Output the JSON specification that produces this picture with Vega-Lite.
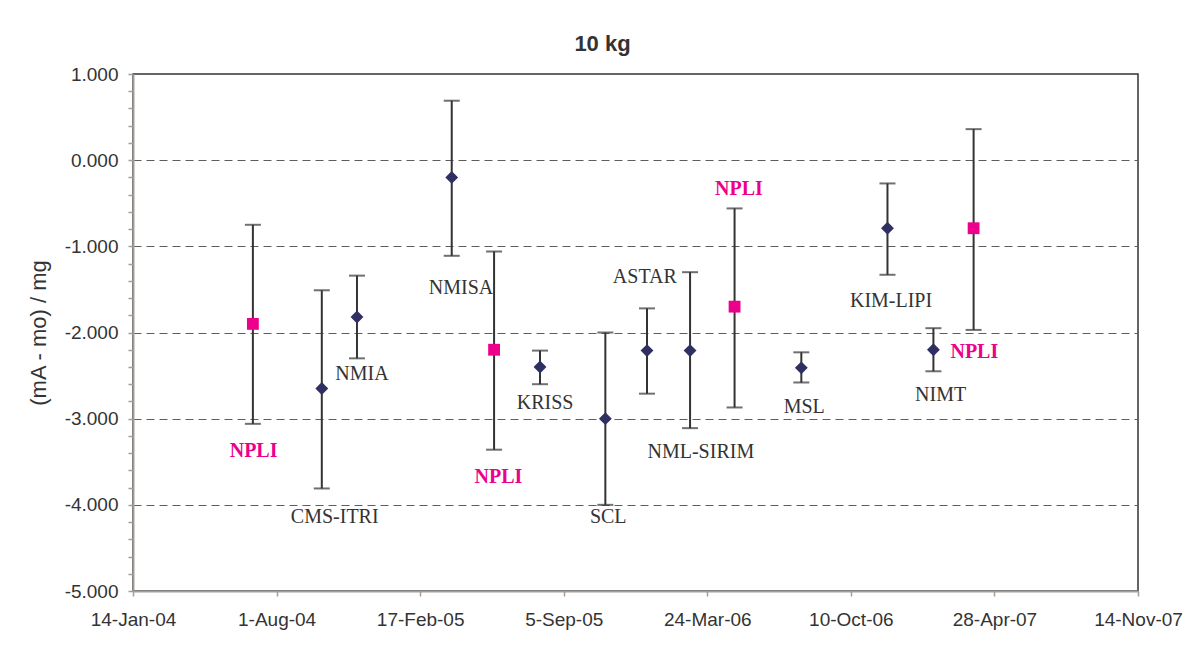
{
  "$schema": "https://vega.github.io/schema/vega-lite/v6.json",
  "width": 1005,
  "height": 517,
  "autosize": {"type": "none"},
  "padding": {"left": 133, "top": 74, "right": 47, "bottom": 67},
  "background": "white",
  "title": {"text": "10 kg", "font": "Liberation Sans", "fontSize": 22, "fontWeight": "bold", "color": "#333333", "dx": -33, "offset": 9, "anchor": "middle"},
  "config": {
    "view": {"stroke": "#333333", "strokeWidth": 1.5},
    "axis": {
      "labelFont": "Liberation Sans", "labelFontSize": 19, "labelColor": "#333333",
      "titleFont": "Liberation Sans", "titleFontSize": 22, "titleColor": "#333333", "titleFontWeight": "normal",
      "domainColor": "#a39d99", "domainWidth": 2, "tickColor": "#a39d99", "tickWidth": 1.5, "tickSize": 5,
      "labelFlush": false, "labelOverlap": false, "labelBound": false
    }
  },
  "datasets": {
    "points": [
      {"lab": "NPLI", "date": "2004-06-29", "value": -1.90, "low": -3.06, "high": -0.75},
      {"lab": "CMS-ITRI", "date": "2004-10-03", "value": -2.65, "low": -3.81, "high": -1.51},
      {"lab": "NMIA", "date": "2004-11-21", "value": -1.82, "low": -2.30, "high": -1.34},
      {"lab": "NMISA", "date": "2005-04-02", "value": -0.20, "low": -1.11, "high": 0.69},
      {"lab": "NPLI", "date": "2005-05-31", "value": -2.20, "low": -3.36, "high": -1.06},
      {"lab": "KRISS", "date": "2005-08-03", "value": -2.40, "low": -2.60, "high": -2.21},
      {"lab": "SCL", "date": "2005-11-02", "value": -3.00, "low": -4.00, "high": -2.00},
      {"lab": "ASTAR", "date": "2005-12-30", "value": -2.21, "low": -2.71, "high": -1.72},
      {"lab": "NML-SIRIM", "date": "2006-02-28", "value": -2.21, "low": -3.11, "high": -1.30},
      {"lab": "NPLI", "date": "2006-05-01", "value": -1.70, "low": -2.87, "high": -0.56},
      {"lab": "MSL", "date": "2006-08-02", "value": -2.41, "low": -2.58, "high": -2.23},
      {"lab": "KIM-LIPI", "date": "2006-11-30", "value": -0.79, "low": -1.33, "high": -0.27},
      {"lab": "NIMT", "date": "2007-02-02", "value": -2.20, "low": -2.45, "high": -1.95},
      {"lab": "NPLI", "date": "2007-03-30", "value": -0.79, "low": -1.97, "high": 0.36}
    ],
    "labels": [
      {"lab": "NPLI", "date": "2004-06-30", "value": -3.38},
      {"lab": "CMS-ITRI", "date": "2004-10-21", "value": -4.14},
      {"lab": "NMIA", "date": "2004-11-28", "value": -2.48},
      {"lab": "NMISA", "date": "2005-04-15", "value": -1.48},
      {"lab": "NPLI", "date": "2005-06-06", "value": -3.68},
      {"lab": "KRISS", "date": "2005-08-10", "value": -2.82},
      {"lab": "SCL", "date": "2005-11-06", "value": -4.14},
      {"lab": "ASTAR", "date": "2005-12-27", "value": -1.36},
      {"lab": "NML-SIRIM", "date": "2006-03-15", "value": -3.39},
      {"lab": "NPLI", "date": "2006-05-07", "value": -0.33},
      {"lab": "MSL", "date": "2006-08-06", "value": -2.87},
      {"lab": "KIM-LIPI", "date": "2006-12-05", "value": -1.63},
      {"lab": "NIMT", "date": "2007-02-12", "value": -2.73},
      {"lab": "NPLI", "date": "2007-03-31", "value": -2.23}
    ]
  },
  "layer": [
    {
      "data": {"name": "points"},
      "mark": {"type": "errorbar", "color": "#333333", "ticks": {"size": 16, "thickness": 2, "color": "#333333"}, "rule": {"strokeWidth": 2, "color": "#333333"}},
      "encoding": {
        "x": {
          "field": "date", "type": "temporal",
          "scale": {"type": "utc", "domain": [{"year": 2004, "month": 1, "date": 14, "utc": true}, {"year": 2007, "month": 11, "date": 14, "utc": true}], "nice": false},
          "axis": {
            "title": null, "grid": false, "labelPadding": 14, "labelOverlap": false, "tickCount": 50,
            "labelExpr": "utcFormat(datum.value, '%-d-%b-%y')",
            "values": [
              {"year": 2004, "month": 1, "date": 14, "utc": true},
              {"year": 2004, "month": 8, "date": 1, "utc": true},
              {"year": 2005, "month": 2, "date": 17, "utc": true},
              {"year": 2005, "month": 9, "date": 5, "utc": true},
              {"year": 2006, "month": 3, "date": 24, "utc": true},
              {"year": 2006, "month": 10, "date": 10, "utc": true},
              {"year": 2007, "month": 4, "date": 28, "utc": true},
              {"year": 2007, "month": 11, "date": 14, "utc": true}
            ]
          }
        },
        "y": {
          "field": "low", "type": "quantitative",
          "scale": {"domain": [-5, 1], "nice": false, "zero": false},
          "axis": {
            "title": "(mA - mo) / mg", "titlePadding": 14, "labelPadding": 10, "labelOverlap": false, "tickCount": 100,
            "values": [1, 0.8, 0.6, 0.4, 0.2, 0, -0.2, -0.4, -0.6, -0.8, -1, -1.2, -1.4, -1.6, -1.8, -2, -2.2, -2.4, -2.6, -2.8, -3, -3.2, -3.4, -3.6, -3.8, -4, -4.2, -4.4, -4.6, -4.8, -5],
            "labelExpr": "abs(datum.value - round(datum.value)) < 0.001 ? replace(format(datum.value, '.3f'), '\u2212', '-') : ''",
            "grid": true, "gridColor": "#5e5e5e", "gridDash": [8, 5], "gridWidth": 1,
            "gridOpacity": {"condition": {"test": "abs(datum.value - round(datum.value)) < 0.001 && datum.value < 0.5 && datum.value > -4.5", "value": 1}, "value": 0}
          }
        },
        "y2": {"field": "high"}
      }
    },
    {
      "data": {"name": "points"},
      "transform": [{"filter": "datum.lab != 'NPLI'"}],
      "mark": {"type": "point", "shape": "diamond", "filled": true, "size": 165, "color": "#2f2f62", "opacity": 1},
      "encoding": {
        "x": {"field": "date", "type": "temporal"},
        "y": {"field": "value", "type": "quantitative"}
      }
    },
    {
      "data": {"name": "points"},
      "transform": [{"filter": "datum.lab == 'NPLI'"}],
      "mark": {"type": "point", "shape": "square", "filled": true, "size": 140, "color": "#ec008c", "opacity": 1},
      "encoding": {
        "x": {"field": "date", "type": "temporal"},
        "y": {"field": "value", "type": "quantitative"}
      }
    },
    {
      "data": {"name": "labels"},
      "transform": [{"filter": "datum.lab != 'NPLI'"}],
      "mark": {"type": "text", "font": "Liberation Serif", "fontSize": 20, "color": "#333333", "align": "center", "baseline": "middle"},
      "encoding": {
        "x": {"field": "date", "type": "temporal"},
        "y": {"field": "value", "type": "quantitative"},
        "text": {"field": "lab"}
      }
    },
    {
      "data": {"name": "labels"},
      "transform": [{"filter": "datum.lab == 'NPLI'"}],
      "mark": {"type": "text", "font": "Liberation Serif", "fontSize": 20, "fontWeight": "bold", "color": "#ec008c", "align": "center", "baseline": "middle"},
      "encoding": {
        "x": {"field": "date", "type": "temporal"},
        "y": {"field": "value", "type": "quantitative"},
        "text": {"field": "lab"}
      }
    }
  ]
}
